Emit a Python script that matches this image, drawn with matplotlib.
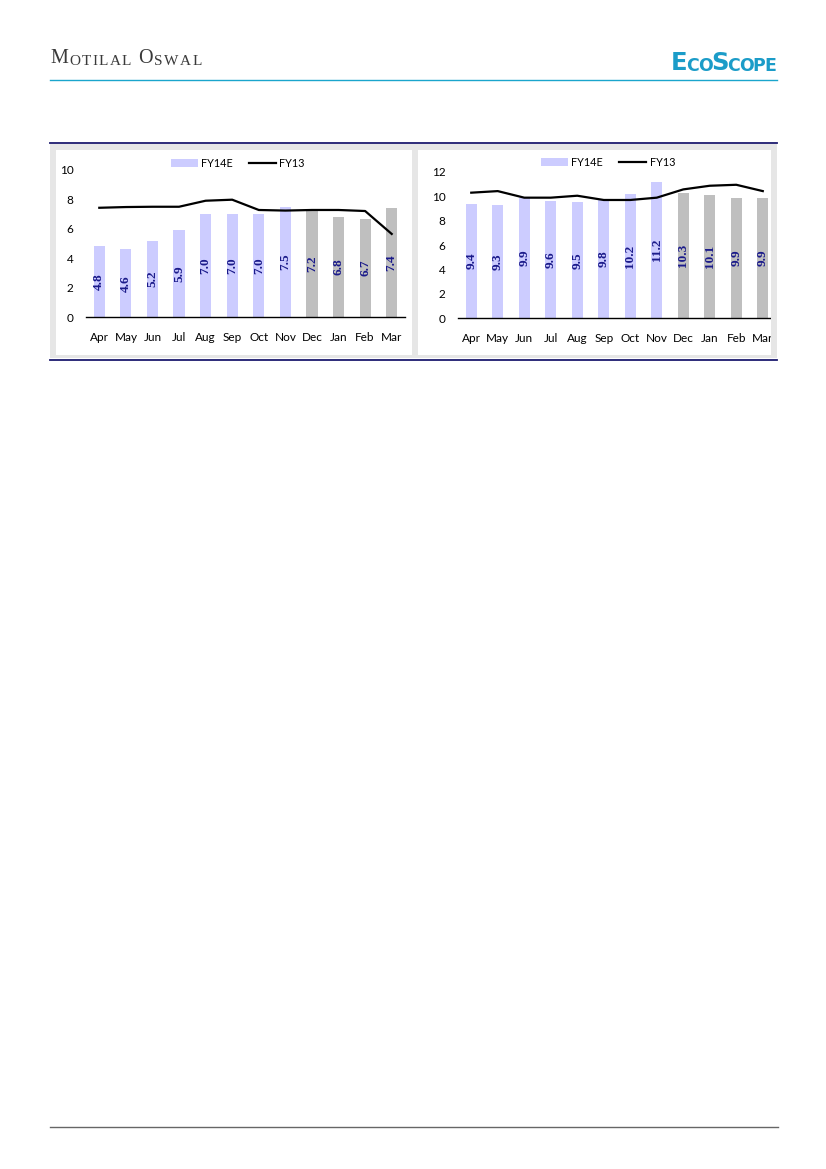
import matplotlib
matplotlib.use('Agg')
import matplotlib.pyplot as plt
from matplotlib.patches import Rectangle, Patch
from matplotlib.lines import Line2D
from matplotlib.text import Annotation

W, H = 826, 1169  # page size in pixels

MONTHS = ['Apr', 'May', 'Jun', 'Jul', 'Aug', 'Sep', 'Oct', 'Nov', 'Dec', 'Jan', 'Feb', 'Mar']
N_ACTUAL = 8  # Apr-Nov drawn lavender, Dec-Mar grey

LEFT_FY14E = [4.8, 4.6, 5.2, 5.9, 7.0, 7.0, 7.0, 7.5, 7.2, 6.8, 6.7, 7.4]
LEFT_FY13 = [7.43, 7.48, 7.5, 7.5, 7.91, 7.98, 7.28, 7.24, 7.28, 7.28, 7.21, 5.65]
LEFT_YTICKS = [0, 2, 4, 6, 8, 10]

RIGHT_FY14E = [9.4, 9.3, 9.9, 9.6, 9.5, 9.8, 10.2, 11.2, 10.3, 10.1, 9.9, 9.9]
RIGHT_FY13 = [10.3, 10.43, 9.89, 9.89, 10.05, 9.7, 9.7, 9.89, 10.57, 10.87, 10.95, 10.43]
RIGHT_YTICKS = [0, 2, 4, 6, 8, 10, 12]

LAVENDER = '#ccccff'
GREY_BAR = '#bfbfbf'
LABEL_BLUE = '#1a1a8a'
NAVY = '#1c1a6e'
CYAN = '#1aa5cc'
PANEL = '#e6e6e6'
AXIS_FONT = 'Lato'


def fx(x):
    return x / W


def fy(y):
    return 1 - y / H


def hline(fig, y, x0, x1, color, lw):
    fig.add_artist(Line2D([fx(x0), fx(x1)], [fy(y), fy(y)], color=color, lw=lw,
                          transform=fig.transFigure))


def rect(fig, x0, y0, x1, y1, color, z):
    fig.add_artist(Rectangle((fx(x0), fy(y1)), (x1 - x0) / W, (y1 - y0) / H,
                             facecolor=color, edgecolor='none', transform=fig.transFigure,
                             zorder=z))


def letters(fig, x, y, parts, color, family, weight='normal', gap=0.0):
    # each letter placed right after the previous one (fake small caps)
    t = fig.text(fx(x), fy(y), parts[0][0], fontsize=parts[0][1], color=color,
                 family=family, fontweight=weight, ha='left', va='bottom')
    for s, size in parts[1:]:
        t = fig.add_artist(Annotation(s, xy=(1, 0), xycoords=t, xytext=(gap, 0),
                                      textcoords='offset points', fontsize=size,
                                      color=color, family=family, fontweight=weight,
                                      ha='left', va='bottom', annotation_clip=False))


def draw_chart(ax, fy14, fy13, yticks, xmax, leg_x, leg_y):
    x = list(range(len(MONTHS)))
    colors = [LAVENDER] * N_ACTUAL + [GREY_BAR] * (len(MONTHS) - N_ACTUAL)
    ax.bar(x, fy14, width=0.42, color=colors, zorder=2)
    ax.plot(x, fy13, color='black', lw=1.6, zorder=3)
    for i, v in enumerate(fy14):
        ax.text(i, v / 2, '%.1f' % v, rotation=90, ha='center', va='center',
                fontsize=9.5, fontweight='bold', color=LABEL_BLUE,
                family='Liberation Serif', zorder=4)
    ax.set_xlim(-0.5, xmax)
    ax.set_ylim(0, yticks[-1])
    ax.set_xticks(x, MONTHS)
    ax.set_yticks(yticks)
    ax.set_facecolor('none')
    for side in ('top', 'left', 'right'):
        ax.spines[side].set_visible(False)
    ax.spines['bottom'].set_color('black')
    ax.spines['bottom'].set_linewidth(1.0)
    ax.tick_params(axis='both', length=0, labelsize=8.5, colors='black')
    ax.tick_params(axis='x', pad=11)
    ax.tick_params(axis='y', pad=9)
    for lab in ax.get_xticklabels() + ax.get_yticklabels():
        lab.set_family(AXIS_FONT)
    handles = [Patch(facecolor=LAVENDER, edgecolor='none'),
               Line2D([], [], color='black', lw=1.6)]
    ax.legend(handles, ['FY14E', 'FY13'], loc='center', bbox_to_anchor=(leg_x, leg_y),
              ncol=2, frameon=False, prop={'family': AXIS_FONT, 'size': 7.8},
              handlelength=2.5, handletextpad=0.3, columnspacing=1.5, borderaxespad=0)


fig = plt.figure(figsize=(W / 100, H / 100), dpi=100)

# page furniture
hline(fig, 80, 50, 777, CYAN, 1.0)
hline(fig, 143, 50, 777, NAVY, 1.3)
hline(fig, 360, 50, 777, NAVY, 1.3)
hline(fig, 1127, 50, 778, '#666666', 1.0)
rect(fig, 50, 144, 777, 358, PANEL, -2)
rect(fig, 56, 150, 412, 355, 'white', -1)
rect(fig, 418, 150, 771, 355, 'white', -1)
rect(fig, 771, 150, 777, 355, PANEL, 5)  # clips the last month label like the source

# header: small caps serif name
name_parts = [('M', 14.5), ('O', 11), ('T', 11), ('I', 11), ('L', 11), ('A', 11), ('L', 11),
              (' ', 11), ('O', 14.5), ('S', 11), ('W', 11), ('A', 11), ('L', 11)]
letters(fig, 50, 68, name_parts, '#3a3a3a', 'Liberation Serif', gap=1.0)

# logo text
logo_parts = [('E', 17.5), ('C', 12.5), ('O', 12.5), ('S', 17.5), ('C', 12.5), ('O', 12.5),
              ('P', 12.5), ('E', 12.5)]
letters(fig, 671, 75, logo_parts, '#1b9cc8', 'DejaVu Sans', weight='bold', gap=-0.9)

# charts
ax1 = fig.add_axes([fx(86), fy(317), (405 - 86) / W, (317 - 170) / H])
draw_chart(ax1, LEFT_FY14E, LEFT_FY13, LEFT_YTICKS, 11.5, 0.476, 1.045)

ax2 = fig.add_axes([fx(458), fy(318), (771 - 458) / W, (318 - 172) / H])
draw_chart(ax2, RIGHT_FY14E, RIGHT_FY13, RIGHT_YTICKS, 11.31, 0.479, 1.065)

fig.savefig('out.png', dpi=100)
